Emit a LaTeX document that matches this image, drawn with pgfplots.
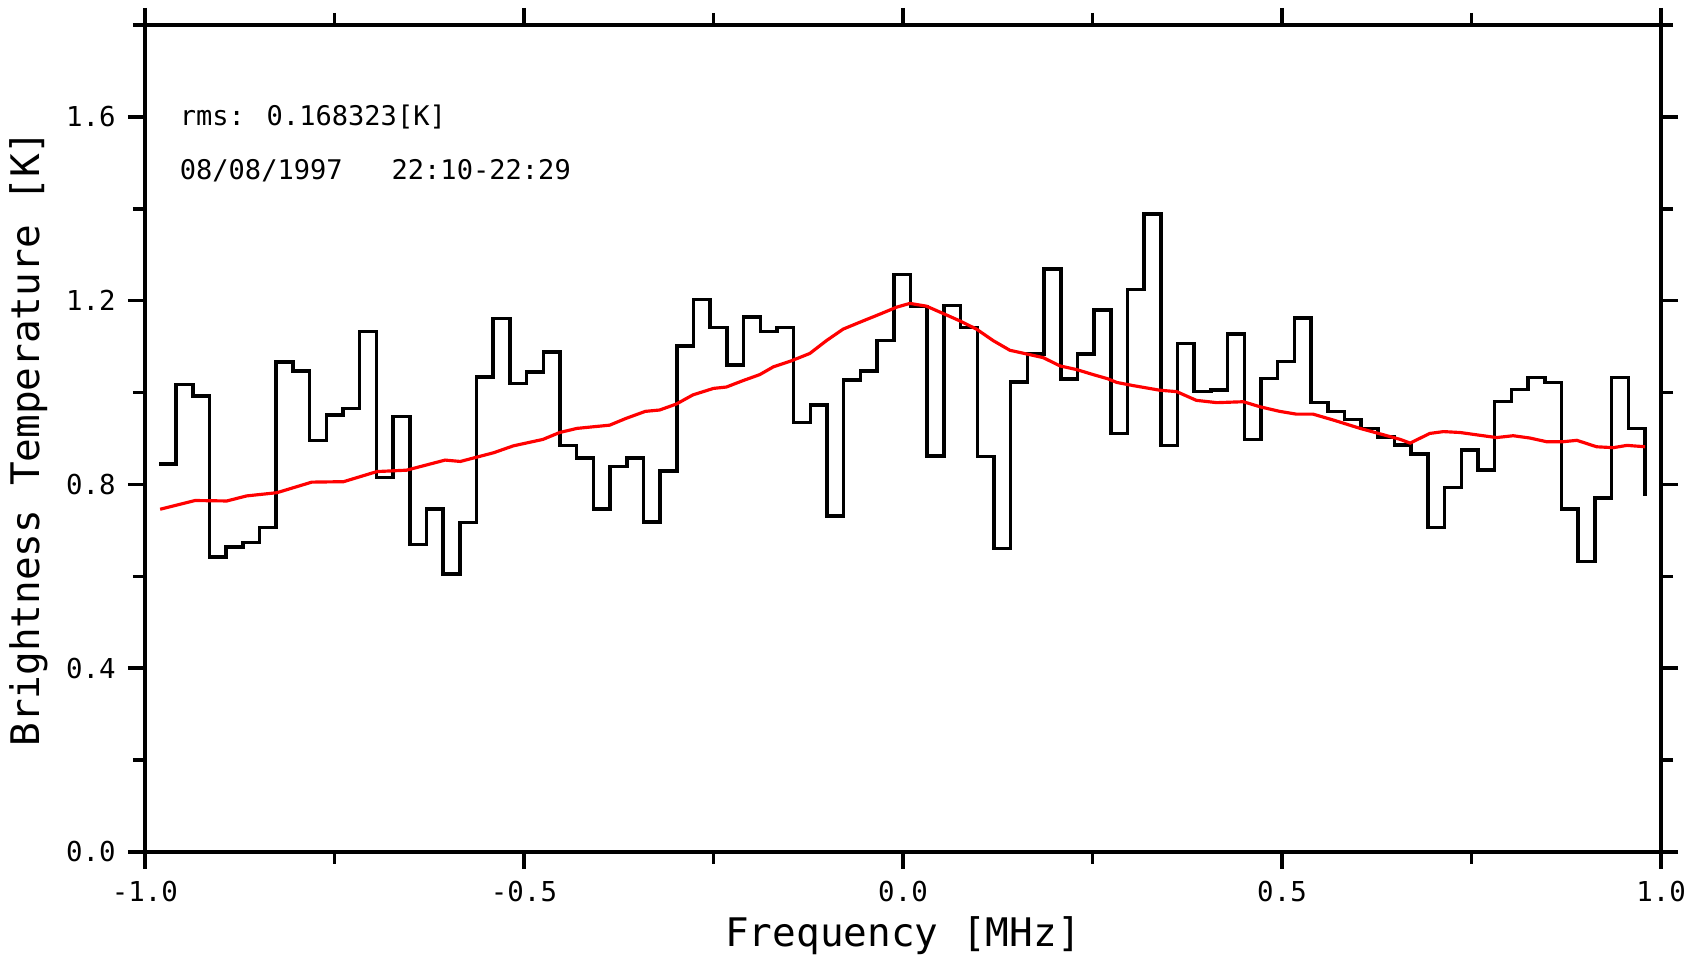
\documentclass[border=0pt]{standalone}
\usepackage{fontspec}
\setmainfont{DejaVu Sans Mono}
\usepackage{pgfplots}
\pgfplotsset{compat=1.18}

% channel spectrum, left edge of each channel and its brightness temperature
\pgfplotstableread{
x y
-0.9810 0.845
-0.9590 1.017
-0.9370 0.993
-0.9149 0.642
-0.8929 0.664
-0.8709 0.674
-0.8489 0.706
-0.8269 1.067
-0.8048 1.047
-0.7828 0.896
-0.7608 0.951
-0.7388 0.965
-0.7168 1.133
-0.6947 0.815
-0.6727 0.948
-0.6507 0.669
-0.6287 0.747
-0.6067 0.605
-0.5846 0.717
-0.5626 1.034
-0.5406 1.161
-0.5186 1.020
-0.4966 1.045
-0.4745 1.088
-0.4525 0.885
-0.4305 0.857
-0.4085 0.747
-0.3865 0.839
-0.3644 0.858
-0.3424 0.718
-0.3204 0.829
-0.2984 1.101
-0.2764 1.202
-0.2543 1.142
-0.2323 1.060
-0.2103 1.164
-0.1883 1.133
-0.1663 1.142
-0.1442 0.935
-0.1222 0.973
-0.1002 0.731
-0.0782 1.027
-0.0562 1.047
-0.0341 1.113
-0.0121 1.257
0.0099 1.187
0.0319 0.862
0.0539 1.189
0.0760 1.142
0.0980 0.861
0.1200 0.661
0.1420 1.023
0.1640 1.084
0.1861 1.269
0.2081 1.029
0.2301 1.084
0.2521 1.180
0.2741 0.911
0.2962 1.224
0.3182 1.389
0.3402 0.885
0.3622 1.107
0.3842 1.002
0.4063 1.006
0.4283 1.127
0.4503 0.898
0.4723 1.031
0.4943 1.068
0.5164 1.162
0.5384 0.978
0.5604 0.959
0.5824 0.941
0.6044 0.922
0.6265 0.903
0.6485 0.886
0.6705 0.866
0.6925 0.706
0.7145 0.793
0.7366 0.875
0.7586 0.831
0.7806 0.980
0.8026 1.007
0.8246 1.033
0.8467 1.022
0.8687 0.747
0.8907 0.632
0.9127 0.770
0.9347 1.033
0.9568 0.922
0.9788 0.775
}\spectrum

% smoothed fit
\pgfplotstableread{
x y
-0.980 0.746
-0.934 0.765
-0.892 0.764
-0.866 0.775
-0.826 0.782
-0.780 0.805
-0.738 0.806
-0.694 0.828
-0.655 0.831
-0.604 0.853
-0.584 0.850
-0.540 0.869
-0.514 0.884
-0.475 0.898
-0.453 0.913
-0.430 0.922
-0.387 0.929
-0.365 0.944
-0.340 0.959
-0.321 0.962
-0.299 0.975
-0.277 0.995
-0.250 1.009
-0.233 1.012
-0.211 1.026
-0.189 1.039
-0.171 1.056
-0.149 1.068
-0.123 1.085
-0.101 1.113
-0.079 1.138
-0.057 1.153
-0.030 1.171
-0.008 1.186
0.009 1.194
0.031 1.188
0.053 1.172
0.075 1.156
0.097 1.138
0.119 1.113
0.141 1.092
0.163 1.084
0.185 1.076
0.207 1.058
0.229 1.050
0.251 1.039
0.270 1.030
0.282 1.022
0.304 1.015
0.339 1.005
0.361 1.002
0.387 0.983
0.414 0.978
0.449 0.980
0.471 0.969
0.497 0.959
0.519 0.953
0.541 0.953
0.568 0.940
0.603 0.922
0.634 0.908
0.656 0.898
0.669 0.890
0.695 0.911
0.713 0.915
0.735 0.913
0.761 0.907
0.783 0.902
0.805 0.906
0.827 0.901
0.849 0.893
0.871 0.893
0.889 0.896
0.915 0.882
0.937 0.880
0.955 0.885
0.979 0.882
}\fit

\begin{document}
\begin{tikzpicture}
\begin{axis}[
  scale only axis,
  width=15.16cm, height=8.27cm,
  xmin=-1, xmax=1, ymin=0, ymax=1.8,
  axis line style={line width=1pt},
  every tick/.style={black, line width=1pt},
  tick align=outside,
  major tick length=0.17cm, minor tick length=0.12cm,
  xtick={-1,-0.5,0,0.5,1},
  minor xtick={-0.75,-0.25,0.25,0.75},
  ytick={0,0.4,0.8,1.2,1.6},
  minor ytick={0.2,0.6,1.0,1.4,1.8},
  xticklabels={-1.0,-0.5,0.0,0.5,1.0},
  yticklabels={0.0,0.4,0.8,1.2,1.6},
  tick label style={font=\fontsize{7.8}{9}\selectfont},
  xlabel={Frequency [MHz]},
  ylabel={Brightness Temperature [K]},
  label style={font=\fontsize{11.2}{13}\selectfont},
  xlabel style={at={(axis description cs:0.5,-0.1016)}, anchor=center},
  ylabel style={at={(axis description cs:-0.0765,0.5)}, anchor=center},
  clip=false,
]
\addplot[const plot, black, line width=1pt] table[x=x, y=y] {\spectrum};
\addplot[red, line width=0.9pt] table[x=x, y=y] {\fit};
\node[anchor=west, inner sep=0pt, font=\fontsize{7.7}{9}\selectfont]
  at (axis cs:-0.955,1.6) {rms: 0.168323[K]};
\node[anchor=west, inner sep=0pt, font=\fontsize{7.7}{9}\selectfont]
  at (axis cs:-0.955,1.482) {08/08/1997\ \ \ 22:10-22:29};
\end{axis}
\pgfresetboundingbox
\path[use as bounding box] (current axis.south west) ++(-1.45cm,-1.07cm)
  rectangle ([xshift=0.39cm,yshift=0.25cm]current axis.north east);
\end{tikzpicture}
\end{document}
